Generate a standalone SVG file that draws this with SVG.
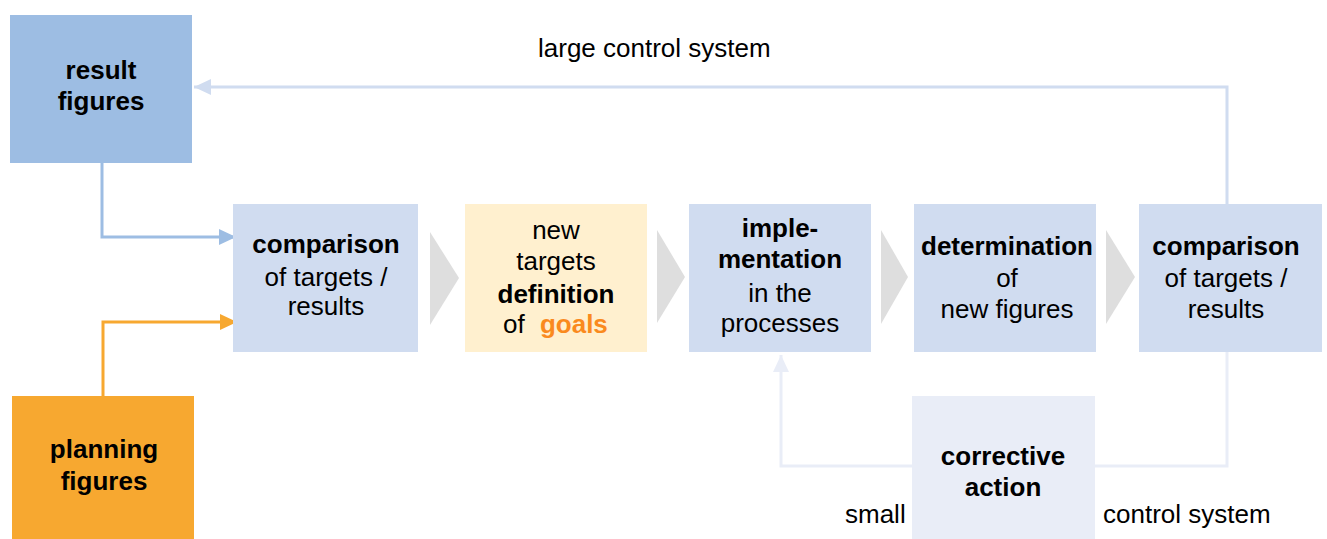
<svg xmlns="http://www.w3.org/2000/svg" width="1327" height="539" viewBox="0 0 1327 539">
<style>
text{font-family:"Liberation Sans",Arial,sans-serif;font-size:26px;fill:#000;text-anchor:middle}
.b{font-weight:bold}
.l{text-anchor:start}
.blue{fill:#D0DCF0}
.chev{fill:#DEDEDE}
</style>
<defs>
<marker id="mBlue" markerUnits="userSpaceOnUse" markerWidth="17" markerHeight="16" refX="17" refY="8" orient="auto"><path d="M0,0 L17,8 L0,16 Z" fill="#9DBDE3"/></marker>
<marker id="mOrange" markerUnits="userSpaceOnUse" markerWidth="17" markerHeight="16" refX="17" refY="8" orient="auto"><path d="M0,0 L17,8 L0,16 Z" fill="#F7A830"/></marker>
<marker id="mLarge" markerUnits="userSpaceOnUse" markerWidth="17" markerHeight="16" refX="17" refY="8" orient="auto"><path d="M0,0 L17,8 L0,16 Z" fill="#D0DCF0"/></marker>
<marker id="mSmall" markerUnits="userSpaceOnUse" markerWidth="17" markerHeight="16" refX="17" refY="8" orient="auto"><path d="M0,0 L17,8 L0,16 Z" fill="#E9EDF7"/></marker>
</defs>
<rect width="1327" height="539" fill="#fff"/>
<g id="connectors" fill="none" stroke-width="3">
<path d="M102,163 V237 H236" stroke="#9DBDE3" marker-end="url(#mBlue)"/>
<path d="M103,396 V322 H237" stroke="#F7A830" marker-end="url(#mOrange)"/>
<path d="M1227,204 V87 H194" stroke="#D0DCF0" marker-end="url(#mLarge)"/>
<path d="M1227,352 V466 H1095" stroke="#E9EDF7"/>
<path d="M912,466 H781 V355" stroke="#E9EDF7" marker-end="url(#mSmall)"/>
</g>
<g id="chevrons">
<polygon class="chev" points="430,232 459,278 430,325"/>
<polygon class="chev" points="657,230 685,277 657,323"/>
<polygon class="chev" points="881,230 908,277 881,324"/>
<polygon class="chev" points="1106,230 1135,277 1106,324"/>
</g>
<g id="result-figures">
<rect x="10" y="15" width="182" height="148" fill="#9DBDE3"/>
<text class="b" x="101" y="79">result</text>
<text class="b" x="101" y="110">figures</text>
</g>
<g id="planning-figures">
<rect x="12" y="396" width="182" height="143" fill="#F7A830"/>
<text class="b" x="104" y="458">planning</text>
<text class="b" x="104" y="490">figures</text>
</g>
<g id="comparison-1">
<rect class="blue" x="233" y="204" width="185" height="148"/>
<text class="b" x="326" y="253">comparison</text>
<text x="326" y="286">of targets /</text>
<text x="326" y="315">results</text>
</g>
<g id="new-targets">
<rect x="465" y="204" width="182" height="148" fill="#FFF0CF"/>
<text x="556" y="239">new</text>
<text x="556" y="270">targets</text>
<text class="b" x="556" y="303">definition</text>
<text class="l" x="503" y="333">of <tspan class="b" dx="8" fill="#FA8A1E">goals</tspan></text>
</g>
<g id="implementation">
<rect class="blue" x="689" y="204" width="182" height="148"/>
<text class="b" x="780" y="237">imple-</text>
<text class="b" x="780" y="268">mentation</text>
<text x="780" y="302">in the</text>
<text x="780" y="332">processes</text>
</g>
<g id="determination">
<rect class="blue" x="914" y="204" width="182" height="148"/>
<text class="b" x="1007" y="255">determination</text>
<text x="1007" y="287">of</text>
<text x="1007" y="318">new figures</text>
</g>
<g id="comparison-2">
<rect class="blue" x="1139" y="204" width="183" height="148"/>
<text class="b" x="1226" y="255">comparison</text>
<text x="1226" y="287">of targets /</text>
<text x="1226" y="318">results</text>
</g>
<g id="corrective-action">
<rect x="912" y="396" width="183" height="143" fill="#E9EDF7"/>
<text class="b" x="1003" y="465">corrective</text>
<text class="b" x="1003" y="496">action</text>
</g>
<g id="labels">
<text class="l" x="538" y="57">large control system</text>
<text class="l" x="845" y="523">small</text>
<text class="l" x="1103" y="523">control system</text>
</g>
</svg>
